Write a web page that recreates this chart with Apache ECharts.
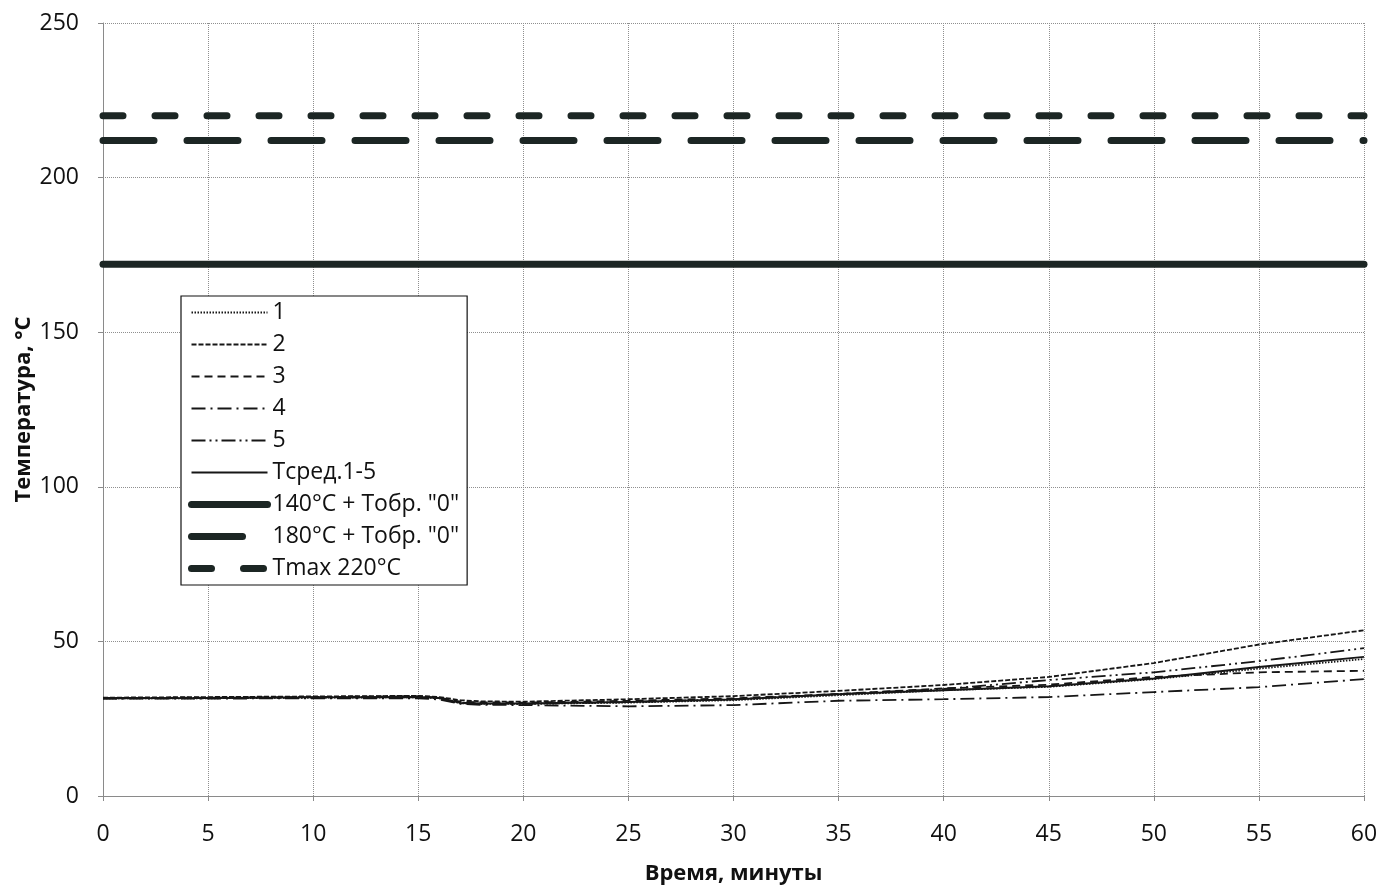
<!DOCTYPE html>
<html>
<head>
    <meta charset="utf-8">
    <title>Температура при испытании образца № 1</title>
    <script src="https://cdn.jsdelivr.net/npm/echarts@6/dist/echarts.min.js"></script>
    <style>
        html, body { margin: 0; padding: 0; background: #fff; }
        #main { width: 1381px; height: 885px; }
    </style>
</head>
<body>
<div id="main"></div>
<script type="text/javascript">
    // время, минуты
    var times = [0, 5, 10, 15, 16, 17, 18, 20, 25, 30, 35, 40, 45, 50, 55, 60];
    // термопары 1-5 и среднее
    var t1   = [31.6, 31.6, 31.8, 31.9, 31.6, 30.0, 29.8, 29.8, 30.2, 31.0, 32.6, 34.2, 35.3, 37.8, 41.2, 44.3];
    var t2   = [31.8, 32.0, 32.2, 32.4, 32.0, 31.0, 30.6, 30.5, 31.3, 32.3, 34.0, 35.9, 38.5, 43.0, 49.0, 53.6];
    var t3   = [31.7, 31.8, 32.0, 32.3, 31.8, 30.5, 30.3, 30.2, 30.8, 31.6, 33.0, 34.8, 36.0, 38.5, 40.0, 40.5];
    var t4   = [31.5, 31.5, 31.6, 31.6, 31.2, 29.8, 29.5, 29.4, 29.0, 29.4, 30.8, 31.3, 32.0, 33.6, 35.2, 37.8];
    var t5   = [31.6, 31.7, 31.9, 32.0, 31.7, 30.2, 29.8, 29.8, 30.4, 31.3, 33.0, 34.6, 37.5, 40.0, 43.6, 47.8];
    var tAvg = [31.6, 31.7, 31.9, 32.0, 31.7, 30.1, 29.9, 29.9, 30.4, 31.2, 32.9, 34.2, 35.5, 38.0, 41.7, 45.0];
    // предельные линии
    var limitTimes = [0, 60];
    var lim140 = [172, 172];
    var lim180 = [212, 212];
    var limMax = [220, 220];
    // оси
    var xTicks = [0, 5, 10, 15, 20, 25, 30, 35, 40, 45, 50, 55, 60];
    var yTicks = [0, 50, 100, 150, 200, 250];
    var names = ['1', '2', '3', '4', '5', 'Тсред.1-5', '140°C + Тобр. "0"', '180°C + Тобр. "0"', 'Tmax 220°C'];

    function pairs(xs, ys) {
        return xs.map(function (x, i) { return [x, ys[i]]; });
    }

    var thin = '#161616';
    var thick = '#1c2624';
    var font = '"Open Sans", "Noto Sans", sans-serif';

    function thinLine(name, data, type, width) {
        return {
            name: name, type: 'line', data: pairs(times, data),
            symbol: 'none', smooth: false, silent: true,
            itemStyle: {color: thin},
            lineStyle: {color: thin, width: width, type: type}
        };
    }
    function thickLine(name, data, type) {
        return {
            name: name, type: 'line', data: pairs(limitTimes, data),
            symbol: 'none', silent: true,
            itemStyle: {color: thick},
            lineStyle: {color: thick, width: 7, type: type, cap: 'round'}
        };
    }

    var myChart = echarts.init(document.getElementById('main'));
    var option = {
        animation: false,
        backgroundColor: '#fff',
        grid: {left: 103, right: 17, top: 23, bottom: 89, outerBoundsMode: 'none'},
        legend: {
            orient: 'vertical',
            left: 181, top: 296,
            padding: [5, 8, 5, 7],
            itemWidth: 76, itemHeight: 14, itemGap: 9,
            backgroundColor: '#fff',
            borderColor: '#111', borderWidth: 1.2, borderRadius: 0,
            textStyle: {color: '#111', fontSize: 23, fontFamily: font},
            itemStyle: {opacity: 0},
            lineStyle: {width: 'inherit', type: 'inherit', cap: 'inherit'},
            data: names
        },
        xAxis: {
            type: 'value',
            min: xTicks[0], max: xTicks[xTicks.length - 1], interval: xTicks[1] - xTicks[0],
            name: 'Время, минуты', nameLocation: 'middle', nameGap: 67,
            nameMoveOverlap: false,
            nameTextStyle: {color: '#111', fontSize: 22, fontWeight: 'bold', fontFamily: font},
            axisLine: {lineStyle: {color: '#8a8a8a', width: 1}},
            axisTick: {show: true, length: 5, lineStyle: {color: '#8a8a8a'}},
            axisLabel: {color: '#111', fontSize: 23, margin: 27, fontFamily: font},
            splitLine: {show: true, lineStyle: {color: '#8f8f8f', type: 'dotted', width: 1}}
        },
        yAxis: {
            type: 'value',
            min: yTicks[0], max: yTicks[yTicks.length - 1], interval: yTicks[1] - yTicks[0],
            name: 'Температура, °С', nameLocation: 'middle', nameGap: 68,
            nameMoveOverlap: false,
            nameTextStyle: {color: '#111', fontSize: 22, fontWeight: 'bold', fontFamily: font},
            axisLine: {show: true, lineStyle: {color: '#8a8a8a', width: 1}},
            axisTick: {show: true, length: 5, lineStyle: {color: '#8a8a8a'}},
            axisLabel: {color: '#111', fontSize: 23, margin: 24, fontFamily: font},
            splitLine: {show: true, lineStyle: {color: '#8f8f8f', type: 'dotted', width: 1}}
        },
        series: [
            thinLine(names[0], t1, [1.5, 1.5], 1.8),
            thinLine(names[1], t2, [5, 2], 1.8),
            thinLine(names[2], t3, [8, 5], 1.8),
            thinLine(names[3], t4, [14, 5, 2, 5], 1.8),
            thinLine(names[4], t5, [14, 4, 2, 4, 2, 4], 1.8),
            thinLine(names[5], tAvg, 'solid', 1.9),
            thickLine(names[6], lim140, 'solid'),
            thickLine(names[7], lim180, [51, 33]),
            thickLine(names[8], limMax, [20, 32])
        ]
    };
    myChart.setOption(option);
</script>
</body>
</html>
